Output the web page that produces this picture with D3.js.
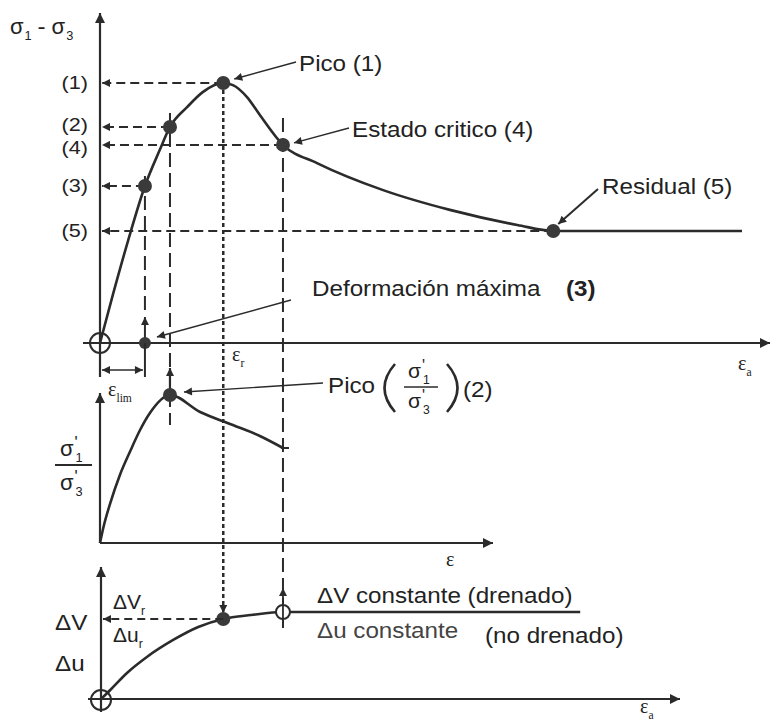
<!DOCTYPE html>
<html>
<head>
<meta charset="utf-8">
<script src="https://cdn.jsdelivr.net/npm/d3@7"></script>
<style>
  body { margin: 0; background: #fff; }
  text { font-family: "Liberation Sans", Arial, sans-serif; fill: #222; }
  .serif { font-family: "Liberation Serif", "Times New Roman", serif; }
</style>
</head>
<body>
<script>
// strain (arbitrary units, 0-100) shared by the three panels
var strainMain = [0, 2.0, 4.4, 7.0, 9.3, 10.9, 13.6, 16.0, 19.2, 20.7, 22.9, 24.9, 28.5, 33.8, 44.1, 54.5, 65.0, 70.6, 100];
var stressMain = [0, 18.5, 39.6, 60.4, 74.2, 83.1, 90.8, 96.5, 100, 99.2, 94.6, 87.7, 76.2, 69.2, 58.8, 51.2, 45.4, 43.1, 43.1];

var keyLabels = ['(1)', '(2)', '(4)', '(3)', '(5)'];
var keyStrain = [19.2, 10.9, 28.5, 7.0, 70.6];
var keyStress = [100, 83.1, 76.2, 60.4, 43.1];

var strainRatio = [0, 0.5, 1.6, 3.1, 4.7, 6.2, 7.8, 10.9, 15.6, 20.7, 24.9, 28.5];
var ratioVals   = [0, 10, 27, 46, 62, 76, 88, 100, 88.5, 79.7, 72.3, 64.2];

var strainVol = [0, 1.6, 4.2, 7.3, 11.4, 15.3, 19.2, 23.5, 28.5, 74.8];
var volVals   = [0, 11.1, 30, 47.8, 66.7, 81.1, 90, 94.4, 97.8, 97.8];

var svg = d3.select('body').append('svg')
            .attr('width', 770)
            .attr('height', 724);

var x    = d3.scaleLinear().domain([0, 100]).range([100, 742]);
var yTop = d3.scaleLinear().domain([0, 100]).range([343, 83]);
var yMid = d3.scaleLinear().domain([0, 100]).range([543, 395]);
var yBot = d3.scaleLinear().domain([0, 100]).range([700, 610]);

var INK = '#2b2b2b';
var SX = 1.1;   // the scan is a little wider than tall

///////////////////////////////////////////////////////////////////////////////
//////////////////////////////      helpers      //////////////////////////////
///////////////////////////////////////////////////////////////////////////////

var defs = svg.append('defs');
function marker(id, w, h){
  defs.append('marker')
      .attr('id', id)
      .attr('viewBox', '0 0 10 10')
      .attr('refX', 10).attr('refY', 5)
      .attr('markerWidth', w).attr('markerHeight', h)
      .attr('markerUnits', 'userSpaceOnUse')
      .attr('orient', 'auto-start-reverse')
      .append('path')
      .attr('d', 'M0,0 L10,5 L0,10 Z')
      .attr('fill', INK);
}
marker('ah', 11, 8);
marker('ahBig', 20, 10);

function seg(x1, y1, x2, y2, opt){
  opt = opt || {};
  var l = svg.append('line')
     .attr('x1', x1).attr('y1', y1).attr('x2', x2).attr('y2', y2)
     .attr('stroke', opt.color || INK)
     .attr('stroke-width', opt.w || 2);
  if(opt.dash) l.attr('stroke-dasharray', opt.dash);
  if(opt.end) l.attr('marker-end', 'url(#' + opt.end + ')');
  if(opt.start) l.attr('marker-start', 'url(#' + opt.start + ')');
  return l;
}

function label(x0, y0, s, opt){
  opt = opt || {};
  return svg.append('text')
     .attr('transform', 'translate(' + x0 + ',' + y0 + ') scale(' + SX + ',1)')
     .attr('font-size', opt.size || 22)
     .attr('font-weight', opt.weight || 'normal')
     .style('fill', opt.color || '#222')
     .text(s);
}

// symbol with subscript (and optional prime), e.g. sigma'1, epsilon_r
function sym(x0, y0, base, sub, opt){
  opt = opt || {};
  var size = opt.size || 22;
  var t = svg.append('text')
     .attr('x', x0).attr('y', y0)
     .attr('font-size', size)
     .attr('class', opt.serif ? 'serif' : null);
  t.append('tspan').text(base);
  var w = t.node().getComputedTextLength();
  if(opt.prime){
    svg.append('text').attr('x', x0 + w + 1).attr('y', y0 - size * 0.35)
       .attr('font-size', size * 0.75).text("'");
  }
  svg.append('text').attr('x', x0 + w + (opt.subdx || 0)).attr('y', y0 + size * 0.28)
     .attr('font-size', size * 0.58)
     .attr('class', opt.serif ? 'serif' : null)
     .text(sub);
  return w;
}

function dot(cx, cy, r){
  svg.append('circle').attr('cx', cx).attr('cy', cy).attr('r', r || 7)
     .attr('fill', '#3a3a3a');
}

function ring(cx, cy, r){
  svg.append('circle').attr('cx', cx).attr('cy', cy).attr('r', r)
     .attr('fill', 'none').attr('stroke', INK).attr('stroke-width', 2);
}

///////////////////////////////////////////////////////////////////////////////
//////////////////////////////   guide lines    ///////////////////////////////
///////////////////////////////////////////////////////////////////////////////

// horizontal dashed levels with arrows back to the axis
keyStrain.forEach(function(s, i){
  seg(x(s), yTop(keyStress[i]), x(0) + 2, yTop(keyStress[i]), {dash: '9,5', end: 'ah'});
});

// vertical guides
seg(x(7.0), yTop(60.4) - 10, x(7.0), yTop(0) - 30, {dash: '14,6'});
seg(x(10.9), yTop(83.1) - 14, x(10.9), 425, {dash: '14,6'});
seg(x(19.2), yTop(100), x(19.2), yBot(90) - 6, {dash: '4,3', w: 2.5, end: 'ah'});
seg(x(28.5), yTop(76.2) - 27, x(28.5), yBot(97.8) + 16, {dash: '14,6'});

///////////////////////////////////////////////////////////////////////////////
//////////////////////////////       axes       ///////////////////////////////
///////////////////////////////////////////////////////////////////////////////

// top panel
seg(x(0), 377, x(0), 13, {end: 'ahBig', w: 2.2});
seg(83, yTop(0), 770, yTop(0), {end: 'ahBig', w: 2.2});
// middle panel
seg(x(0), yMid(0), x(0), 393, {end: 'ahBig', w: 2.2});
seg(x(0), yMid(0), 493, yMid(0), {end: 'ahBig', w: 2.2});
// bottom panel
seg(x(0) + 1, 712, x(0) + 1, 567, {end: 'ahBig', w: 2.2});
seg(88, yBot(0) - 1, 680, yBot(0) - 1, {end: 'ahBig', w: 2.2});

// tick labels on the stress axis; (2) and (4) sit close, nudge them apart
var labelNudge = [0, -2, 3, 0, 0];
var yAxis = d3.axisLeft(yTop)
              .tickValues(keyStress)
              .tickFormat(function(d, i){ return keyLabels[i]; })
              .tickSize(0)
              .tickPadding(10);
var gAxis = svg.append('g').attr('transform', 'translate(' + x(0) + ',0)').call(yAxis);
gAxis.select('.domain').remove();
gAxis.selectAll('text')
     .attr('font-family', '"Liberation Sans", Arial, sans-serif')
     .attr('font-size', 18)
     .attr('transform', function(d, i){ return 'translate(0,' + labelNudge[i] + ') scale(1.2,1)'; })
     .style('fill', '#222');

///////////////////////////////////////////////////////////////////////////////
//////////////////////////////      curves      ///////////////////////////////
///////////////////////////////////////////////////////////////////////////////

function drawCurve(xs, ys, yScale){
  var pts = d3.zip(xs, ys);
  var line = d3.line()
               .x(function(d){ return x(d[0]); })
               .y(function(d){ return yScale(d[1]); })
               .curve(d3.curveMonotoneX);
  svg.append('path')
     .attr('d', line(pts))
     .attr('fill', 'none')
     .attr('stroke', INK)
     .attr('stroke-width', 2.6);
}

drawCurve(strainMain, stressMain, yTop);
drawCurve(strainRatio, ratioVals, yMid);
drawCurve(strainVol, volVals, yBot);

// small end tick of the ratio curve
seg(x(28.5) - 2, yMid(64.2), x(28.5) + 6, yMid(64.2), {w: 2});

///////////////////////////////////////////////////////////////////////////////
//////////////////////////////      points      ///////////////////////////////
///////////////////////////////////////////////////////////////////////////////

keyStrain.forEach(function(s, i){ dot(x(s), yTop(keyStress[i]), 7); });

ring(x(0), yTop(0), 10);
ring(x(0) + 1, yBot(0), 10);

// deformacion maxima marker on the strain axis
seg(x(7.0), yTop(0), x(7.0), yTop(0) - 26, {end: 'ah', w: 2});
dot(x(7.0), yTop(0), 6);
seg(x(7.0), yTop(0), x(7.0), 377, {w: 2});

// eps_lim double arrow
seg(x(0) + 2, 370, x(7.0) - 2, 370, {start: 'ah', end: 'ah', w: 1.6});

// peak of the ratio curve
seg(x(10.9), yMid(100), x(10.9), 368, {end: 'ah', w: 2.2});
dot(x(10.9), yMid(100), 7);

// bottom panel points
dot(x(19.2), yBot(90), 7);
svg.append('circle').attr('cx', x(28.5)).attr('cy', yBot(97.8)).attr('r', 7)
   .attr('fill', '#fff').attr('stroke', INK).attr('stroke-width', 2);
seg(x(28.5), yBot(97.8) + 14, x(28.5), 588, {w: 1.8, end: 'ah'});
seg(x(19.2), yBot(90), x(0) + 3, yBot(90), {dash: '8,5', end: 'ah'});

///////////////////////////////////////////////////////////////////////////////
//////////////////////////////    annotations   ///////////////////////////////
///////////////////////////////////////////////////////////////////////////////

// axis titles
var w1 = sym(10, 34, '\u03c3', '1', {size: 22, subdx: 1});
label(10 + w1 + 14, 34, '-', {size: 22});
sym(10 + w1 + 28, 34, '\u03c3', '3', {size: 22, subdx: 1});

sym(738, 370, '\u03b5', 'a', {serif: true, size: 20});
sym(232, 361, '\u03b5', 'r', {serif: true, size: 20});
sym(108, 396, '\u03b5', 'lim', {serif: true, size: 20});
svg.append('text').attr('class', 'serif').attr('x', 446).attr('y', 566)
   .attr('font-size', 20).text('\u03b5');
sym(640, 713, '\u03b5', 'a', {serif: true, size: 20});

// callouts
seg(296, 62, x(19.2) + 11, yTop(100) - 4, {w: 1.4, end: 'ah'});
label(299, 71, 'Pico (1)');

seg(349, 128, x(28.5) + 11, yTop(76.2) - 2, {w: 1.4, end: 'ah'});
label(352, 137, 'Estado critico (4)');

seg(598, 189, x(70.6) + 5, yTop(43.1) - 7, {w: 2, end: 'ah'});
label(602, 194, 'Residual (5)');

label(312, 296, 'Deformaci\u00f3n m\u00e1xima');
label(566, 296, '(3)', {weight: 'bold'});
seg(291, 300, x(7.0) + 12, yTop(0) - 6, {w: 1.4, end: 'ah'});

// Pico (sigma'1 / sigma'3) (2)
seg(323, 383, x(10.9) + 14, yMid(100) - 3, {w: 1.4, end: 'ah'});
label(328, 393, 'Pico');
svg.append('path').attr('d', 'M395,364 Q374,388 395,412')
   .attr('fill', 'none').attr('stroke', INK).attr('stroke-width', 2.6);
svg.append('path').attr('d', 'M447,364 Q468,388 447,412')
   .attr('fill', 'none').attr('stroke', INK).attr('stroke-width', 2.6);
sym(408, 378, '\u03c3', '1', {prime: true, size: 21, subdx: 2});
seg(404, 387, 438, 387, {w: 1.6});
sym(408, 408, '\u03c3', '3', {prime: true, size: 21, subdx: 2});
label(463, 397, '(2)');

// left label of the ratio panel
sym(60, 456, '\u03c3', '1', {prime: true, size: 22, subdx: 2});
seg(55, 465, 92, 465, {w: 1.8});
sym(60, 490, '\u03c3', '3', {prime: true, size: 22, subdx: 2});

// volume / pore pressure panel
sym(113, 609, '\u0394V', 'r', {size: 21});
sym(113, 642, '\u0394u', 'r', {size: 21});
label(55, 630, '\u0394V');
label(55, 671, '\u0394u');
label(317, 603, '\u0394V constante (drenado)');
label(317, 638, '\u0394u constante', {color: '#444'});
label(485, 643, '(no drenado)');
</script>
</body>
</html>
